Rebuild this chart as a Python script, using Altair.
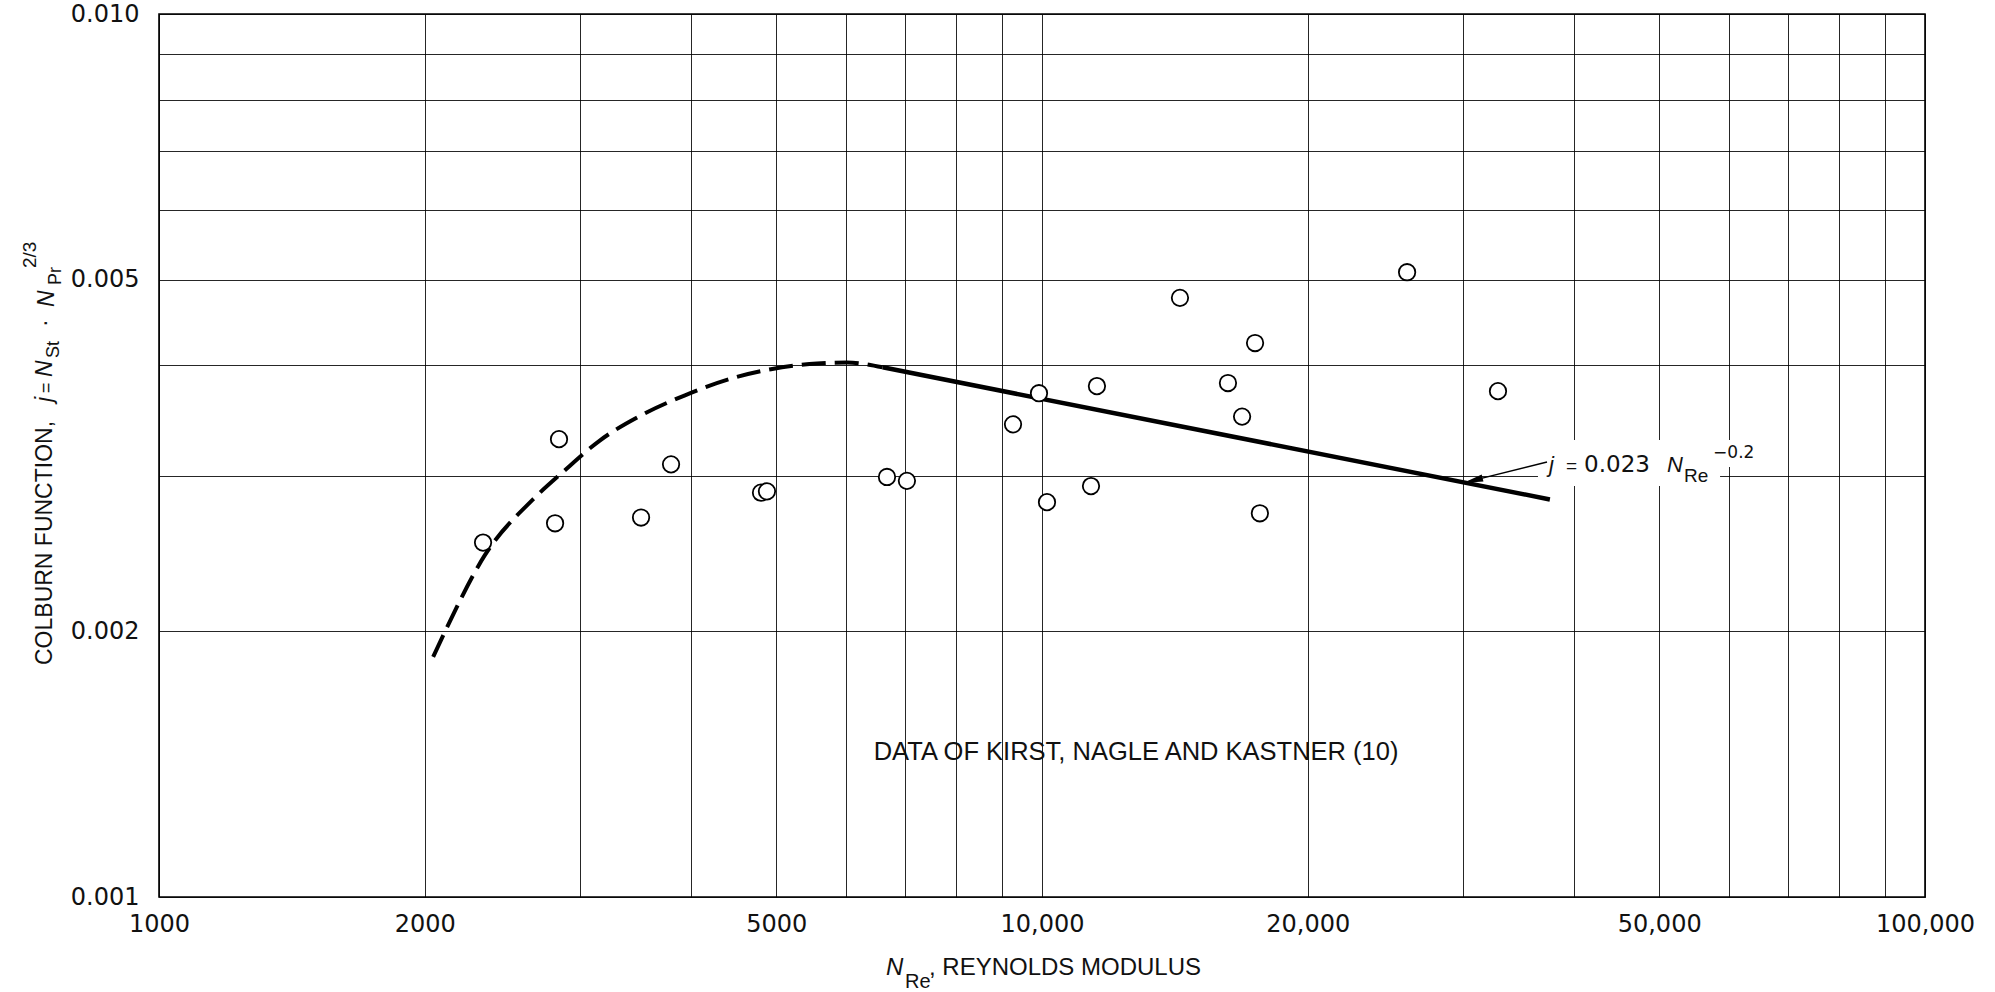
import altair as alt
import pandas as pd

# ---------------- data ----------------
re_points = [2328, 2838, 2809, 3515, 3801, 4806, 4881, 6675, 7031, 9272, 9922,
             10131, 11363, 11540, 14330, 17430, 16240, 16850, 17650, 25910, 32840]
j_points = [0.00252, 0.00330, 0.00265, 0.00269, 0.00309, 0.00287, 0.00288,
            0.00299, 0.00296, 0.00343, 0.00372, 0.00280, 0.00292, 0.00379,
            0.00477, 0.00424, 0.00382, 0.00350, 0.00272, 0.00510, 0.00374]

dash_re = [2044, 2119, 2340, 2652, 2868, 3159, 3532, 3942, 4467, 4932, 5561, 6015, 6600]
dash_j = [0.00187, 0.00202, 0.00244, 0.00282, 0.00303, 0.00329, 0.00352,
          0.00370, 0.00387, 0.00396, 0.00402, 0.00403, 0.00398]

solid_re = [6600, 37600]
solid_j = [0.00398, 0.00282]

x_ticks = [1000, 2000, 3000, 4000, 5000, 6000, 7000, 8000, 9000, 10000,
           20000, 30000, 40000, 50000, 60000, 70000, 80000, 90000, 100000]
x_labelled = [1000, 2000, 5000, 10000, 20000, 50000, 100000]
x_label_text = ["1000", "2000", "5000", "10,000", "20,000", "50,000", "100,000"]

y_ticks = [0.001, 0.002, 0.003, 0.004, 0.005, 0.006, 0.007, 0.008, 0.009, 0.010]
y_labelled = [0.001, 0.002, 0.005, 0.010]
y_label_text = ["0.001", "0.002", "0.005", "0.010"]

note_text = ["DATA OF KIRST, NAGLE AND KASTNER (10)"]
note_re = [12780]
note_j = [0.001459]

# annotation "j = 0.023 N_Re^-0.2" anchor and arrow
eq_re = [37520]
eq_j = [0.00303]
arrow_tail_re = [37320]
arrow_tail_j = [0.003109]
arrow_head_re = [29990]
arrow_head_j = [0.002944]
# white box behind the equation label
box_re = [36450, 58600]
box_re2 = [58600, 65880]
box_j = [0.003293, 0.003293]
box_j2 = [0.002921, 0.003069]

# ---------------- chart ----------------
W, H = 1766, 883
xs = alt.Scale(type="log", domain=[1000, 100000], nice=False, zero=False)
ys = alt.Scale(type="log", domain=[0.001, 0.01], nice=False, zero=False)

x_expr = " : ".join(
    [f"abs(datum.value - {v}) < 0.5 ? '{t}'" for v, t in zip(x_labelled, x_label_text)]
) + " : ''"
y_expr = " : ".join(
    [f"abs(datum.value - {v}) < 1e-7 ? '{t}'" for v, t in zip(y_labelled, y_label_text)]
) + " : ''"

x_axis = alt.Axis(values=x_ticks, labelExpr=x_expr, title=None, grid=True,
                  gridColor="#000000", gridWidth=1, gridOpacity=0.85,
                  ticks=False, domain=False, labelFont="DejaVu Sans",
                  labelFontSize=24, labelColor="#111111", labelPadding=15,
                  labelFlush=False, labelOverlap=False, labelBound=False)
y_axis = alt.Axis(values=y_ticks, labelExpr=y_expr, title=None, grid=True,
                  gridColor="#000000", gridWidth=1, gridOpacity=0.85,
                  ticks=False, domain=False, labelFont="DejaVu Sans",
                  labelFontSize=24, labelColor="#111111", labelPadding=20,
                  labelFlush=False, labelOverlap=False, labelBound=False)


def X(f):
    return alt.X(f, scale=xs, axis=x_axis)


def Y(f):
    return alt.Y(f, scale=ys, axis=y_axis)


pts = pd.DataFrame({"re": re_points, "j": j_points})
dash_df = pd.DataFrame({"re": dash_re, "j": dash_j})
solid_df = pd.DataFrame({"re": solid_re, "j": solid_j})

box1 = alt.Chart(pd.DataFrame({"re": [box_re[0]], "re2": [box_re[1]],
                               "j": [box_j[0]], "j2": [box_j2[0]]})).mark_rect(
    color="white").encode(x=X("re:Q"), x2="re2:Q", y=Y("j:Q"), y2="j2:Q")
box2 = alt.Chart(pd.DataFrame({"re": [box_re2[0]], "re2": [box_re2[1]],
                               "j": [box_j[1]], "j2": [box_j2[1]]})).mark_rect(
    color="white").encode(x=X("re:Q"), x2="re2:Q", y=Y("j:Q"), y2="j2:Q")

dashed = alt.Chart(dash_df).mark_line(
    color="black", strokeWidth=4, strokeDash=[24, 9], interpolate="monotone",
    strokeCap="butt").encode(x=X("re:Q"), y=Y("j:Q"))

solid = alt.Chart(solid_df).mark_line(color="black", strokeWidth=4.5).encode(
    x=X("re:Q"), y=Y("j:Q"))

points = alt.Chart(pts).mark_point(
    shape="circle", filled=True, fill="white", stroke="black",
    strokeWidth=1.8, size=270, opacity=1).encode(x=X("re:Q"), y=Y("j:Q"))

note = alt.Chart(pd.DataFrame({"re": note_re, "j": note_j, "t": note_text})).mark_text(
    font="Liberation Sans", fontSize=25.5, align="center", baseline="middle",
    color="#111111").encode(x=X("re:Q"), y=Y("j:Q"), text="t:N")

arrow_df = pd.DataFrame({"re": arrow_tail_re, "j": arrow_tail_j,
                         "re2": arrow_head_re, "j2": arrow_head_j})
arrow_line = alt.Chart(arrow_df).mark_rule(color="black", strokeWidth=1.4).encode(
    x=X("re:Q"), y=Y("j:Q"), x2="re2:Q", y2="j2:Q")
arrow_head = alt.Chart(arrow_df).mark_point(
    shape="M0,0 L2,-0.36 L2,0.36 Z", filled=True, color="black", size=400,
    angle=346, opacity=1).encode(x=X("re2:Q"), y=Y("j2:Q"))

eq_df = pd.DataFrame({"re": eq_re, "j": eq_j})


def eq_piece(text, dx, dy, size, font="Liberation Sans", style="normal"):
    return alt.Chart(eq_df).mark_text(
        text=text, dx=dx, dy=dy, fontSize=size, font=font, fontStyle=style,
        align="left", baseline="alphabetic", color="#111111").encode(
        x=X("re:Q"), y=Y("j:Q"))


eq_layers = [
    eq_piece("j", 0, 0, 22, style="italic"),
    eq_piece("=", 17, 0, 19),
    eq_piece("0.023", 35, 0, 23, font="DejaVu Sans"),
    eq_piece("N", 118, 0, 22, style="italic"),
    eq_piece("Re", 135, 10, 19),
    eq_piece("\u22120.2", 164, -14, 17, font="DejaVu Sans"),
]

dummy = pd.DataFrame({"k": [0]})


def title_piece(text, px, py, size, angle=0, style="normal", font="Liberation Sans"):
    return alt.Chart(dummy).mark_text(
        text=text, fontSize=size, font=font, fontStyle=style, angle=angle,
        align="left", baseline="alphabetic", color="#111111").encode(
        x=alt.value(px), y=alt.value(py))


OX, OY = 159, 14  # screen position of the plot origin
y_title = [
    title_piece("COLBURN FUNCTION,", 52 - OX, 665 - OY, 23, angle=270),
    title_piece("j", 52 - OX, 402 - OY, 23, angle=270, style="italic"),
    title_piece("=", 52 - OX, 393 - OY, 18, angle=270),
    title_piece("N", 52 - OX, 377 - OY, 23, angle=270, style="italic"),
    title_piece("St", 59 - OX, 358 - OY, 18, angle=270),
    title_piece("\u00b7", 52 - OX, 327 - OY, 23, angle=270),
    title_piece("N", 54 - OX, 307 - OY, 23, angle=270, style="italic"),
    title_piece("Pr", 61 - OX, 285 - OY, 18, angle=270),
    title_piece("2/3", 36 - OX, 268 - OY, 19, angle=270),
]
x_title = [
    title_piece("N", 886 - OX, 975 - OY, 24, style="italic"),
    title_piece("Re", 905 - OX, 988 - OY, 20),
    title_piece(", REYNOLDS MODULUS", 929 - OX, 975 - OY, 24),
]

chart = alt.layer(
    box1, box2, dashed, solid, points, note, arrow_line, arrow_head,
    *eq_layers, *y_title, *x_title
).properties(
    width=W, height=H,
    autosize=alt.AutoSizeParams(type="none"),
    padding={"left": OX, "top": OY, "right": 1995 - OX - W, "bottom": 992 - OY - H},
    background="white",
).configure_view(
    stroke="black", strokeWidth=1.6
)

chart.save("out.html", embed_options={"renderer": "svg", "actions": False})
